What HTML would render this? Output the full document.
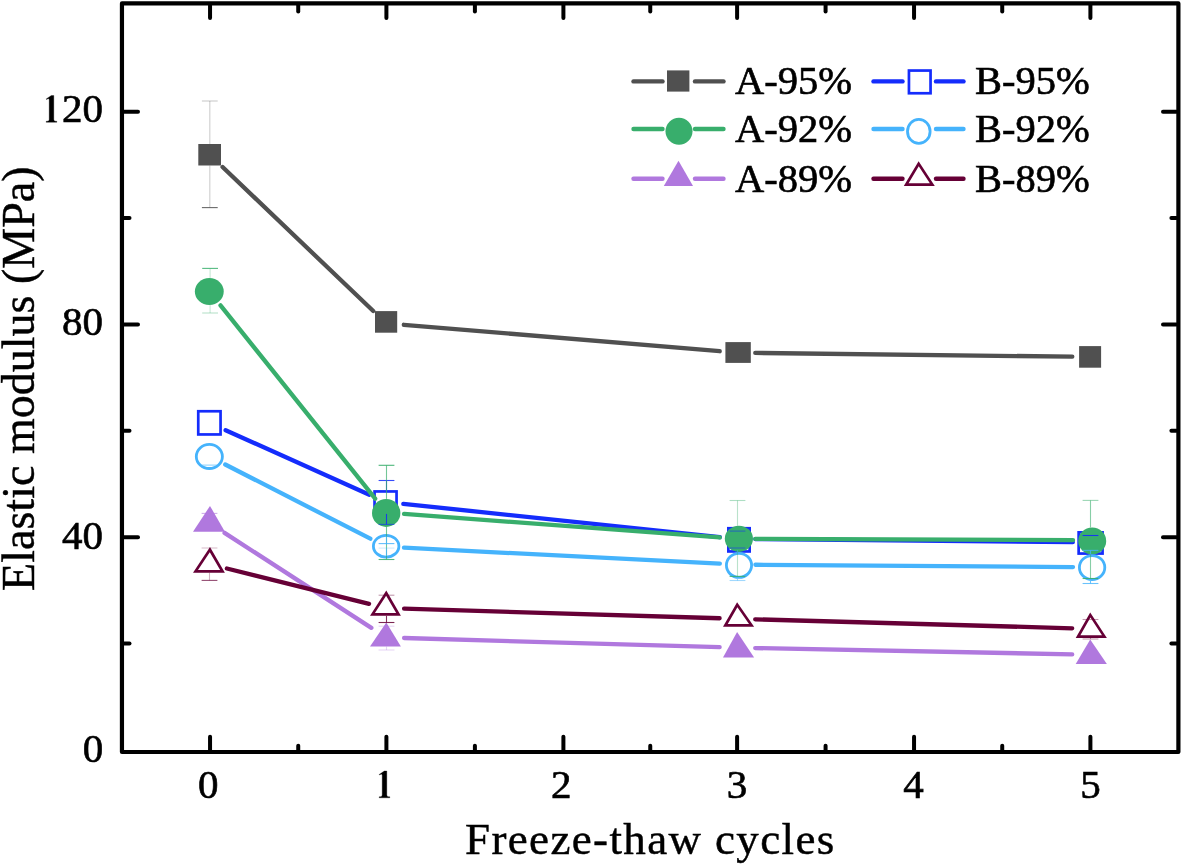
<!DOCTYPE html>
<html><head><meta charset="utf-8"><style>
html,body{margin:0;padding:0;background:#fff;}
svg{display:block;will-change:transform;}
</style></head><body>
<svg width="1182" height="865" viewBox="0 0 1182 865">
<rect width="1182" height="865" fill="#fff"/>
<line x1="222.57" y1="167.05" x2="373.23" y2="311.00" stroke="#505050" stroke-width="4.3" stroke-linecap="round"/><line x1="403.84" y1="324.78" x2="719.71" y2="351.22" stroke="#505050" stroke-width="4.3" stroke-linecap="round"/><line x1="755.25" y1="352.91" x2="1072.30" y2="356.69" stroke="#505050" stroke-width="4.3" stroke-linecap="round"/><rect x="198.3" y="144.0" width="22.70" height="21.50" fill="#505050"/><rect x="375.0" y="311.1" width="22.20" height="21.60" fill="#505050"/><rect x="725.4" y="342.1" width="25.40" height="20.80" fill="#505050"/><rect x="1079.1" y="346.1" width="22.00" height="21.60" fill="#505050"/><line x1="225.64" y1="430.19" x2="369.36" y2="494.71" stroke="#142cfc" stroke-width="4.3" stroke-linecap="round"/><line x1="403.30" y1="503.86" x2="719.80" y2="537.04" stroke="#142cfc" stroke-width="4.3" stroke-linecap="round"/><line x1="755.30" y1="539.07" x2="1072.80" y2="542.13" stroke="#142cfc" stroke-width="4.3" stroke-linecap="round"/><rect x="198.25" y="411.25" width="22.30" height="23.20" fill="none" stroke="#142cfc" stroke-width="2.7"/><rect x="374.55" y="491.45" width="22.00" height="21.70" fill="none" stroke="#142cfc" stroke-width="2.7"/><rect x="728.35" y="528.25" width="21.30" height="23.20" fill="none" stroke="#142cfc" stroke-width="2.7"/><rect x="1078.65" y="532.35" width="23.90" height="21.20" fill="none" stroke="#142cfc" stroke-width="2.7"/><line x1="220.52" y1="305.40" x2="375.18" y2="498.70" stroke="#38ae6c" stroke-width="4.3" stroke-linecap="round"/><line x1="404.05" y1="513.92" x2="719.75" y2="537.48" stroke="#38ae6c" stroke-width="4.3" stroke-linecap="round"/><line x1="755.30" y1="538.87" x2="1073.00" y2="540.13" stroke="#38ae6c" stroke-width="4.3" stroke-linecap="round"/><ellipse cx="209.3" cy="291.5" rx="14.45" ry="13.5" fill="#38ae6c"/><ellipse cx="386.2" cy="512.9" rx="14.2" ry="14.0" fill="#38ae6c"/><ellipse cx="738.9" cy="538.85" rx="14.1" ry="13.05" fill="#38ae6c"/><ellipse cx="1092.2" cy="540.95" rx="14.0" ry="13.45" fill="#38ae6c"/><line x1="225.25" y1="464.50" x2="370.35" y2="538.70" stroke="#45b3fc" stroke-width="4.3" stroke-linecap="round"/><line x1="403.98" y1="547.70" x2="719.82" y2="563.70" stroke="#45b3fc" stroke-width="4.3" stroke-linecap="round"/><line x1="755.40" y1="564.73" x2="1073.00" y2="567.07" stroke="#45b3fc" stroke-width="4.3" stroke-linecap="round"/><ellipse cx="209.35" cy="456.45" rx="13.05" ry="12.05" fill="none" stroke="#45b3fc" stroke-width="2.8"/><ellipse cx="386.15" cy="546.2" rx="12.75" ry="10.90" fill="none" stroke="#45b3fc" stroke-width="2.8"/><ellipse cx="739.0" cy="565.35" rx="12.60" ry="12.05" fill="none" stroke="#45b3fc" stroke-width="2.8"/><ellipse cx="1092.1" cy="567.55" rx="12.70" ry="11.95" fill="none" stroke="#45b3fc" stroke-width="2.8"/><line x1="224.55" y1="532.87" x2="371.35" y2="627.83" stroke="#b078de" stroke-width="4.3" stroke-linecap="round"/><line x1="404.09" y1="638.02" x2="719.61" y2="647.18" stroke="#b078de" stroke-width="4.3" stroke-linecap="round"/><line x1="755.20" y1="648.05" x2="1072.20" y2="654.35" stroke="#b078de" stroke-width="4.3" stroke-linecap="round"/><polygon points="210.0,505.9 224.9,531.8 193.0,531.8" fill="#b078de"/><polygon points="386.3,622.5 400.9,646.5 370.0,646.5" fill="#b078de"/><polygon points="737.1,632.0 754.1,657.6 723.0,657.6" fill="#b078de"/><polygon points="1090.2,639.4 1106.9,663.9 1075.7,663.9" fill="#b078de"/><line x1="226.87" y1="568.49" x2="369.03" y2="603.81" stroke="#660036" stroke-width="4.3" stroke-linecap="round"/><line x1="404.09" y1="608.64" x2="719.61" y2="618.26" stroke="#660036" stroke-width="4.3" stroke-linecap="round"/><line x1="755.19" y1="619.30" x2="1072.21" y2="628.30" stroke="#660036" stroke-width="4.3" stroke-linecap="round"/><path d="M210.00,547.10 L224.90,572.75 L193.00,572.75 Z M209.79,552.21 L220.15,570.05 L197.97,570.05 Z" fill="#660036" fill-rule="evenodd"/><path d="M386.30,590.60 L400.90,615.80 L370.00,615.80 Z M386.13,595.77 L396.17,613.10 L374.91,613.10 Z" fill="#660036" fill-rule="evenodd"/><path d="M737.10,602.30 L754.10,626.70 L723.00,626.70 Z M737.40,607.32 L749.02,624.00 L727.76,624.00 Z" fill="#660036" fill-rule="evenodd"/><path d="M1090.20,612.40 L1106.90,638.00 L1075.70,638.00 Z M1090.42,617.59 L1101.98,635.30 L1080.39,635.30 Z" fill="#660036" fill-rule="evenodd"/><line x1="209.8" y1="144.0" x2="209.8" y2="101.0" stroke="#505050" stroke-width="1.1" opacity="0.28"/><line x1="209.8" y1="165.5" x2="209.8" y2="207.6" stroke="#505050" stroke-width="1.1" opacity="0.28"/><line x1="201.90" y1="101.0" x2="217.70" y2="101.0" stroke="#505050" stroke-width="1.1" opacity="0.3"/><line x1="201.90" y1="207.6" x2="217.70" y2="207.6" stroke="#505050" stroke-width="1.1" opacity="0.85"/><line x1="386.5" y1="490.1" x2="386.5" y2="480.5" stroke="#142cfc" stroke-width="1.1" opacity="0.85"/><line x1="386.5" y1="513.9" x2="386.5" y2="524.4" stroke="#142cfc" stroke-width="1.1" opacity="0.85"/><line x1="378.60" y1="480.5" x2="394.40" y2="480.5" stroke="#142cfc" stroke-width="1.1" opacity="0.85"/><line x1="378.60" y1="524.4" x2="394.40" y2="524.4" stroke="#142cfc" stroke-width="1.1" opacity="0.6"/><line x1="729.60" y1="531.1" x2="745.40" y2="531.1" stroke="#142cfc" stroke-width="1.1" opacity="0.5"/><line x1="729.60" y1="548.0" x2="745.40" y2="548.0" stroke="#142cfc" stroke-width="1.1" opacity="0.5"/><line x1="1082.60" y1="535.5" x2="1098.40" y2="535.5" stroke="#142cfc" stroke-width="1.1" opacity="0.9"/><line x1="210.1" y1="278.0" x2="210.1" y2="268.4" stroke="#38ae6c" stroke-width="1.1" opacity="0.28"/><line x1="210.1" y1="305.0" x2="210.1" y2="313.0" stroke="#38ae6c" stroke-width="1.1" opacity="0.28"/><line x1="202.20" y1="268.4" x2="218.00" y2="268.4" stroke="#38ae6c" stroke-width="1.1" opacity="0.85"/><line x1="202.20" y1="313.0" x2="218.00" y2="313.0" stroke="#38ae6c" stroke-width="1.1" opacity="0.35"/><line x1="386.5" y1="498.9" x2="386.5" y2="465.3" stroke="#38ae6c" stroke-width="1.1" opacity="0.7"/><line x1="386.5" y1="526.9" x2="386.5" y2="559.5" stroke="#38ae6c" stroke-width="1.1" opacity="0.7"/><line x1="378.60" y1="465.3" x2="394.40" y2="465.3" stroke="#38ae6c" stroke-width="1.1" opacity="0.9"/><line x1="378.60" y1="559.5" x2="394.40" y2="559.5" stroke="#38ae6c" stroke-width="1.1" opacity="0.85"/><line x1="737.5" y1="525.8" x2="737.5" y2="500.5" stroke="#38ae6c" stroke-width="1.1" opacity="0.35"/><line x1="737.5" y1="551.9" x2="737.5" y2="576.4" stroke="#38ae6c" stroke-width="1.1" opacity="0.35"/><line x1="729.60" y1="500.5" x2="745.40" y2="500.5" stroke="#38ae6c" stroke-width="1.1" opacity="0.4"/><line x1="729.60" y1="576.4" x2="745.40" y2="576.4" stroke="#38ae6c" stroke-width="1.1" opacity="0.85"/><line x1="1090.5" y1="527.5" x2="1090.5" y2="500.4" stroke="#38ae6c" stroke-width="1.1" opacity="0.6"/><line x1="1090.5" y1="554.4" x2="1090.5" y2="578.5" stroke="#38ae6c" stroke-width="1.1" opacity="0.6"/><line x1="1082.60" y1="500.4" x2="1098.40" y2="500.4" stroke="#38ae6c" stroke-width="1.1" opacity="0.5"/><line x1="1082.60" y1="578.5" x2="1098.40" y2="578.5" stroke="#38ae6c" stroke-width="1.1" opacity="0.85"/><line x1="201.60" y1="465.1" x2="217.40" y2="465.1" stroke="#45b3fc" stroke-width="1.1" opacity="0.6"/><line x1="378.60" y1="543.6" x2="394.40" y2="543.6" stroke="#45b3fc" stroke-width="1.1" opacity="0.85"/><line x1="378.60" y1="548.1" x2="394.40" y2="548.1" stroke="#45b3fc" stroke-width="1.1" opacity="0.25"/><line x1="737.5" y1="551.9" x2="737.5" y2="550.2" stroke="#45b3fc" stroke-width="1.1" opacity="0.5"/><line x1="737.5" y1="578.8" x2="737.5" y2="580.5" stroke="#45b3fc" stroke-width="1.1" opacity="0.5"/><line x1="729.60" y1="580.5" x2="745.40" y2="580.5" stroke="#45b3fc" stroke-width="1.1" opacity="0.5"/><line x1="1090.5" y1="554.2" x2="1090.5" y2="550.4" stroke="#45b3fc" stroke-width="1.1" opacity="0.8"/><line x1="1090.5" y1="580.9" x2="1090.5" y2="583.5" stroke="#45b3fc" stroke-width="1.1" opacity="0.8"/><line x1="1082.60" y1="550.4" x2="1098.40" y2="550.4" stroke="#45b3fc" stroke-width="1.1" opacity="0.8"/><line x1="1082.60" y1="583.5" x2="1098.40" y2="583.5" stroke="#45b3fc" stroke-width="1.1" opacity="0.8"/><line x1="201.60" y1="513.4" x2="217.40" y2="513.4" stroke="#b078de" stroke-width="1.1" opacity="0.6"/><line x1="386.5" y1="646.5" x2="386.5" y2="650.0" stroke="#b078de" stroke-width="1.1" opacity="0.3"/><line x1="378.60" y1="626.2" x2="394.40" y2="626.2" stroke="#b078de" stroke-width="1.1" opacity="0.3"/><line x1="378.60" y1="650.0" x2="394.40" y2="650.0" stroke="#b078de" stroke-width="1.1" opacity="0.3"/><line x1="209.5" y1="572.75" x2="209.5" y2="580.4" stroke="#660036" stroke-width="1.1" opacity="0.3"/><line x1="201.60" y1="548.0" x2="217.40" y2="548.0" stroke="#660036" stroke-width="1.1" opacity="0.25"/><line x1="201.60" y1="580.4" x2="217.40" y2="580.4" stroke="#660036" stroke-width="1.1" opacity="0.7"/><line x1="386.5" y1="615.8" x2="386.5" y2="622.5" stroke="#660036" stroke-width="1.1" opacity="0.8"/><line x1="378.60" y1="595.2" x2="394.40" y2="595.2" stroke="#660036" stroke-width="1.1" opacity="0.4"/><line x1="378.60" y1="622.5" x2="394.40" y2="622.5" stroke="#660036" stroke-width="1.1" opacity="0.85"/><line x1="1090.5" y1="638.0" x2="1090.5" y2="639.0" stroke="#660036" stroke-width="1.1" opacity="0.4"/><line x1="1082.60" y1="619.5" x2="1098.40" y2="619.5" stroke="#660036" stroke-width="1.1" opacity="0.4"/><line x1="1082.60" y1="639.0" x2="1098.40" y2="639.0" stroke="#660036" stroke-width="1.1" opacity="0.4"/><line x1="386.5" y1="536.5" x2="386.5" y2="544.5" stroke="#45b3fc" stroke-width="1.1" opacity="0.8"/><line x1="386.5" y1="548.5" x2="386.5" y2="556" stroke="#45b3fc" stroke-width="1.1" opacity="0.8"/>
<rect x="121.95" y="3.45" width="1056.45" height="748.55" fill="none" stroke="#000" stroke-width="4.2" stroke-linejoin="round"/><line x1="210.05" y1="750.00" x2="210.05" y2="736.70" stroke="#000" stroke-width="4" stroke-linecap="round"/><line x1="210.05" y1="5.50" x2="210.05" y2="18.00" stroke="#000" stroke-width="4" stroke-linecap="round"/><line x1="298.23" y1="750.00" x2="298.23" y2="745.70" stroke="#000" stroke-width="4" stroke-linecap="round"/><line x1="298.23" y1="5.50" x2="298.23" y2="11.60" stroke="#000" stroke-width="4" stroke-linecap="round"/><line x1="386.40" y1="750.00" x2="386.40" y2="736.70" stroke="#000" stroke-width="4" stroke-linecap="round"/><line x1="386.40" y1="5.50" x2="386.40" y2="18.00" stroke="#000" stroke-width="4" stroke-linecap="round"/><line x1="474.90" y1="750.00" x2="474.90" y2="745.70" stroke="#000" stroke-width="4" stroke-linecap="round"/><line x1="474.90" y1="5.50" x2="474.90" y2="11.60" stroke="#000" stroke-width="4" stroke-linecap="round"/><line x1="563.40" y1="750.00" x2="563.40" y2="736.70" stroke="#000" stroke-width="4" stroke-linecap="round"/><line x1="563.40" y1="5.50" x2="563.40" y2="18.00" stroke="#000" stroke-width="4" stroke-linecap="round"/><line x1="650.25" y1="750.00" x2="650.25" y2="745.70" stroke="#000" stroke-width="4" stroke-linecap="round"/><line x1="650.25" y1="5.50" x2="650.25" y2="11.60" stroke="#000" stroke-width="4" stroke-linecap="round"/><line x1="737.10" y1="750.00" x2="737.10" y2="736.70" stroke="#000" stroke-width="4" stroke-linecap="round"/><line x1="737.10" y1="5.50" x2="737.10" y2="18.00" stroke="#000" stroke-width="4" stroke-linecap="round"/><line x1="825.58" y1="750.00" x2="825.58" y2="745.70" stroke="#000" stroke-width="4" stroke-linecap="round"/><line x1="825.58" y1="5.50" x2="825.58" y2="11.60" stroke="#000" stroke-width="4" stroke-linecap="round"/><line x1="914.05" y1="750.00" x2="914.05" y2="736.70" stroke="#000" stroke-width="4" stroke-linecap="round"/><line x1="914.05" y1="5.50" x2="914.05" y2="18.00" stroke="#000" stroke-width="4" stroke-linecap="round"/><line x1="1002.23" y1="750.00" x2="1002.23" y2="745.70" stroke="#000" stroke-width="4" stroke-linecap="round"/><line x1="1002.23" y1="5.50" x2="1002.23" y2="11.60" stroke="#000" stroke-width="4" stroke-linecap="round"/><line x1="1090.40" y1="750.00" x2="1090.40" y2="736.70" stroke="#000" stroke-width="4" stroke-linecap="round"/><line x1="1090.40" y1="5.50" x2="1090.40" y2="18.00" stroke="#000" stroke-width="4" stroke-linecap="round"/><line x1="124.00" y1="537.20" x2="138.00" y2="537.20" stroke="#000" stroke-width="4" stroke-linecap="round"/><line x1="1176.30" y1="537.20" x2="1163.00" y2="537.20" stroke="#000" stroke-width="4" stroke-linecap="round"/><line x1="124.00" y1="324.45" x2="138.00" y2="324.45" stroke="#000" stroke-width="4" stroke-linecap="round"/><line x1="1176.30" y1="324.45" x2="1163.00" y2="324.45" stroke="#000" stroke-width="4" stroke-linecap="round"/><line x1="124.00" y1="111.71" x2="138.00" y2="111.71" stroke="#000" stroke-width="4" stroke-linecap="round"/><line x1="1176.30" y1="111.71" x2="1163.00" y2="111.71" stroke="#000" stroke-width="4" stroke-linecap="round"/><line x1="124.00" y1="643.58" x2="129.50" y2="643.58" stroke="#000" stroke-width="4" stroke-linecap="round"/><line x1="1176.30" y1="643.58" x2="1171.40" y2="643.58" stroke="#000" stroke-width="4" stroke-linecap="round"/><line x1="124.00" y1="430.83" x2="129.50" y2="430.83" stroke="#000" stroke-width="4" stroke-linecap="round"/><line x1="1176.30" y1="430.83" x2="1171.40" y2="430.83" stroke="#000" stroke-width="4" stroke-linecap="round"/><line x1="124.00" y1="218.08" x2="129.50" y2="218.08" stroke="#000" stroke-width="4" stroke-linecap="round"/><line x1="1176.30" y1="218.08" x2="1171.40" y2="218.08" stroke="#000" stroke-width="4" stroke-linecap="round"/>
<line x1="633.5" y1="81.4" x2="662.5" y2="81.4" stroke="#505050" stroke-width="4.4" stroke-linecap="round"/><line x1="695" y1="81.4" x2="723.5" y2="81.4" stroke="#505050" stroke-width="4.4" stroke-linecap="round"/><rect x="667" y="70.4" width="22.40" height="21.20" fill="#505050"/><line x1="633.5" y1="129.0" x2="662.5" y2="129.0" stroke="#38ae6c" stroke-width="4.4" stroke-linecap="round"/><line x1="695" y1="129.0" x2="723.5" y2="129.0" stroke="#38ae6c" stroke-width="4.4" stroke-linecap="round"/><ellipse cx="679" cy="131.3" rx="13.5" ry="13.5" fill="#38ae6c"/><line x1="633.5" y1="178.7" x2="662.5" y2="178.7" stroke="#b078de" stroke-width="4.4" stroke-linecap="round"/><line x1="695" y1="178.7" x2="723.5" y2="178.7" stroke="#b078de" stroke-width="4.4" stroke-linecap="round"/><polygon points="678.5,160.8 693,186 663.8,186" fill="#b078de"/><line x1="873.5" y1="81.4" x2="902.5" y2="81.4" stroke="#142cfc" stroke-width="4.4" stroke-linecap="round"/><line x1="936" y1="81.4" x2="963.5" y2="81.4" stroke="#142cfc" stroke-width="4.4" stroke-linecap="round"/><rect x="908.95" y="70.55" width="21.60" height="22.70" fill="none" stroke="#142cfc" stroke-width="2.7"/><line x1="873.5" y1="129.0" x2="902.5" y2="129.0" stroke="#45b3fc" stroke-width="4.4" stroke-linecap="round"/><line x1="936" y1="129.0" x2="963.5" y2="129.0" stroke="#45b3fc" stroke-width="4.4" stroke-linecap="round"/><ellipse cx="918.8" cy="131.4" rx="11.30" ry="12.00" fill="none" stroke="#45b3fc" stroke-width="2.8"/><line x1="873.5" y1="178.7" x2="902.5" y2="178.7" stroke="#660036" stroke-width="4.4" stroke-linecap="round"/><line x1="936" y1="178.7" x2="963.5" y2="178.7" stroke="#660036" stroke-width="4.4" stroke-linecap="round"/><path d="M918.60,161.20 L934.80,186.00 L903.80,186.00 Z M918.74,166.29 L929.85,183.30 L908.60,183.30 Z" fill="#660036" fill-rule="evenodd"/>
<text x="103.2" y="762.4" font-family="Liberation Serif"  stroke="#000" stroke-width="0.65" font-size="41" text-anchor="end">0</text><text x="103.0" y="549.2" font-family="Liberation Serif"  stroke="#000" stroke-width="0.65" font-size="41" text-anchor="end">40</text><text x="103.0" y="334.5" font-family="Liberation Serif"  stroke="#000" stroke-width="0.65" font-size="41" text-anchor="end">80</text><text x="103.0" y="121.9" font-family="Liberation Serif"  stroke="#000" stroke-width="0.65" font-size="41" text-anchor="end">20</text><text x="208.3" y="797.6" font-family="Liberation Serif"  stroke="#000" stroke-width="0.65" font-size="41" text-anchor="middle">0</text><text x="561.2" y="797.6" font-family="Liberation Serif"  stroke="#000" stroke-width="0.65" font-size="41" text-anchor="middle">2</text><text x="737.0" y="797.6" font-family="Liberation Serif"  stroke="#000" stroke-width="0.65" font-size="41" text-anchor="middle">3</text><text x="913.5" y="797.6" font-family="Liberation Serif"  stroke="#000" stroke-width="0.65" font-size="41" text-anchor="middle">4</text><text x="1090.5" y="797.6" font-family="Liberation Serif"  stroke="#000" stroke-width="0.65" font-size="41" text-anchor="middle">5</text><path transform="translate(-333,-675.5)" d="M379.2,774.4 L384.3,771.0 L386.8,771.0 L386.8,794.9 C386.8,796.3 387.9,796.7 389.8,796.8 L389.8,797.8 L379.2,797.8 L379.2,796.8 C381.1,796.7 382.2,796.3 382.2,794.9 L382.2,775.6 C382.2,774.2 381.6,774.0 380.5,774.5 L379.5,775.0 Z" fill="#000" stroke="#000" stroke-width="0.3"/><path d="M379.2,774.4 L384.3,771.0 L386.8,771.0 L386.8,794.9 C386.8,796.3 387.9,796.7 389.8,796.8 L389.8,797.8 L379.2,797.8 L379.2,796.8 C381.1,796.7 382.2,796.3 382.2,794.9 L382.2,775.6 C382.2,774.2 381.6,774.0 380.5,774.5 L379.5,775.0 Z" fill="#000" stroke="#000" stroke-width="0.3"/><text x="465" y="854.3" font-family="Liberation Serif"  stroke="#000" stroke-width="0.45" font-size="45" textLength="369.3" lengthAdjust="spacing">Freeze-thaw cycles</text><text transform="translate(34.2,590.9) rotate(-90)" font-family="Liberation Serif"  stroke="#000" stroke-width="0.45" font-size="46" textLength="424.5" lengthAdjust="spacing">Elastic modulus (MPa)</text><text x="735" y="94.4" font-family="Liberation Serif"  stroke="#000" stroke-width="0.65" font-size="40.5">A-95%</text><text x="735" y="142.3" font-family="Liberation Serif"  stroke="#000" stroke-width="0.65" font-size="40.5">A-92%</text><text x="735" y="191.9" font-family="Liberation Serif"  stroke="#000" stroke-width="0.65" font-size="40.5">A-89%</text><text x="975" y="94.4" font-family="Liberation Serif"  stroke="#000" stroke-width="0.65" font-size="40.5">B-95%</text><text x="975" y="142.3" font-family="Liberation Serif"  stroke="#000" stroke-width="0.65" font-size="40.5">B-92%</text><text x="975" y="191.9" font-family="Liberation Serif"  stroke="#000" stroke-width="0.65" font-size="40.5">B-89%</text>
</svg>
</body></html>
